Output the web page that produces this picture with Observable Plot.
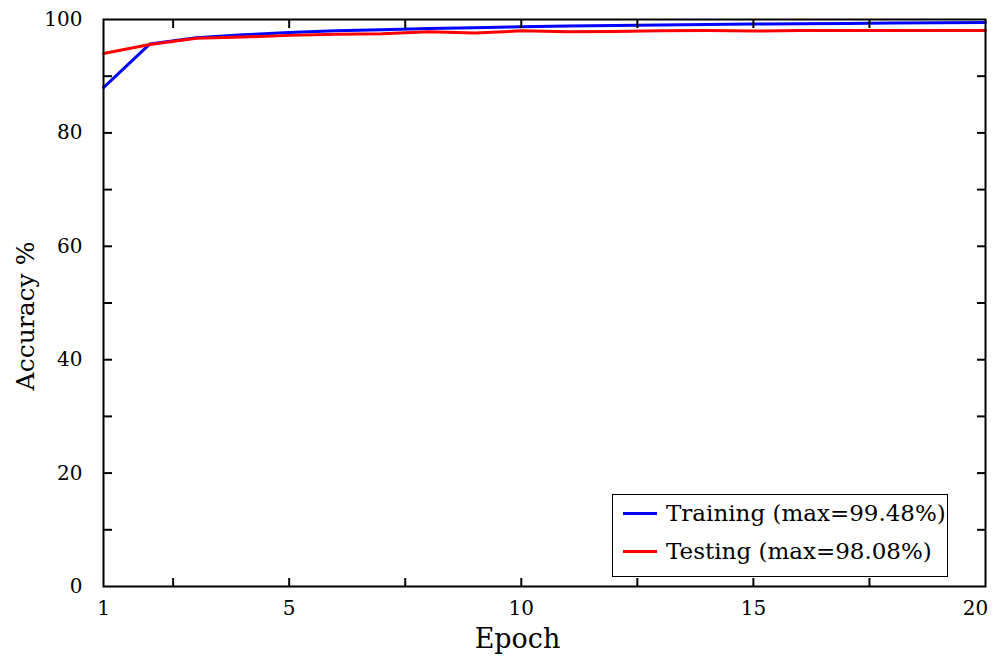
<!DOCTYPE html>
<html><head><meta charset="utf-8">
<script src="https://cdn.jsdelivr.net/npm/d3@7"></script>
<script src="https://cdn.jsdelivr.net/npm/@observablehq/plot@0.6"></script>
<style>
body{margin:0;background:#fff;}
#wrap{position:relative;width:995px;height:661px;font-family:"DejaVu Serif",serif;}
#legend{position:absolute;left:612px;top:494px;width:336px;height:83px;border:1.5px solid #000;background:#fff;box-sizing:border-box;font-size:23px;}
.row{position:absolute;left:10px;display:flex;align-items:center;white-space:nowrap;}
.sw{width:34px;height:3px;margin-right:9px;}
</style></head><body>
<div id="wrap"></div>
<script>
const epochs = [1,2,3,4,5,6,7,8,9,10,11,12,13,14,15,16,17,18,19,20];
const training = [88.0,95.7,96.8,97.3,97.7,98.0,98.2,98.4,98.55,98.7,98.85,98.95,99.05,99.1,99.2,99.25,99.3,99.38,99.42,99.48];
const testing = [94.0,95.6,96.7,96.9,97.2,97.4,97.5,97.85,97.6,98.0,97.85,97.9,98.0,98.05,97.95,98.08,98.05,98.05,98.05,98.05];
const xTickLabels = [1,5,10,15];
const xLastLabel = [20];
const xTicks = [2.5,5,7.5,10,12.5,15,17.5];
const yTickLabels = [0,20,40,60,80,100];
const yTicks = [10,20,30,40,50,60,70,80,90];
const xTitle = ["Epoch"];
const yTitle = ["Accuracy %"];
const seriesNames = ["Training (max=99.48%)","Testing (max=98.08%)"];
const seriesColors = ["#0000ff","#ff0000"];

const rows = [];
epochs.forEach((e,i)=>{rows.push({epoch:e,acc:training[i],s:seriesNames[0]});});
epochs.forEach((e,i)=>{rows.push({epoch:e,acc:testing[i],s:seriesNames[1]});});

const fs = 20;
const chart = Plot.plot({
  width:995, height:661,
  marginLeft:103, marginRight:10, marginTop:19, marginBottom:75,
  style:{fontFamily:"DejaVu Serif, serif", fontSize:fs+"px", color:"#000", background:"#fff"},
  x:{domain:[1,20]},
  y:{domain:[0,100]},
  color:{domain:seriesNames, range:seriesColors},
  marks:[
    Plot.line(rows,{x:"epoch",y:"acc",z:"s",stroke:"s",strokeWidth:3}),
    Plot.axisX(xTickLabels,{anchor:"bottom",tickSize:0,tickPadding:14,fontSize:fs,label:null}),
    Plot.axisX(xLastLabel,{anchor:"bottom",tickSize:0,tickPadding:14,fontSize:fs,label:null,dx:-10}),
    Plot.axisX(xTicks,{anchor:"bottom",tickSize:-8,tickFormat:()=>"",label:null,strokeWidth:2}),
    Plot.axisX(xTicks,{anchor:"top",tickSize:-8,tickFormat:()=>"",label:null,strokeWidth:2}),
    Plot.axisY(yTickLabels,{anchor:"left",tickSize:0,tickPadding:21,fontSize:fs,label:null}),
    Plot.axisY(yTicks,{anchor:"left",tickSize:-9,tickFormat:()=>"",label:null,strokeWidth:2}),
    Plot.axisY(yTicks,{anchor:"right",tickSize:-9,tickFormat:()=>"",label:null,strokeWidth:2}),
    Plot.text(xTitle,{text:d=>d,frameAnchor:"bottom",textAnchor:"middle",dy:61,dx:-27,fontSize:27}),
    Plot.text(yTitle,{text:d=>d,frameAnchor:"left",textAnchor:"middle",rotate:-90,dx:-78,dy:13,fontSize:25}),
    Plot.frame({stroke:"#000",strokeWidth:2})
  ]
});
const wrap = document.getElementById("wrap");
wrap.appendChild(chart);
const lg = document.createElement("div");
lg.id="legend";
seriesNames.forEach((n,i)=>{
  const r=document.createElement("div");r.className="row";r.style.top=(i===0?5:43)+"px";
  const sw=document.createElement("div");sw.className="sw";sw.style.background=seriesColors[i];
  const t=document.createElement("span");t.textContent=n;
  r.appendChild(sw);r.appendChild(t);lg.appendChild(r);
});
wrap.appendChild(lg);
</script></body></html>
